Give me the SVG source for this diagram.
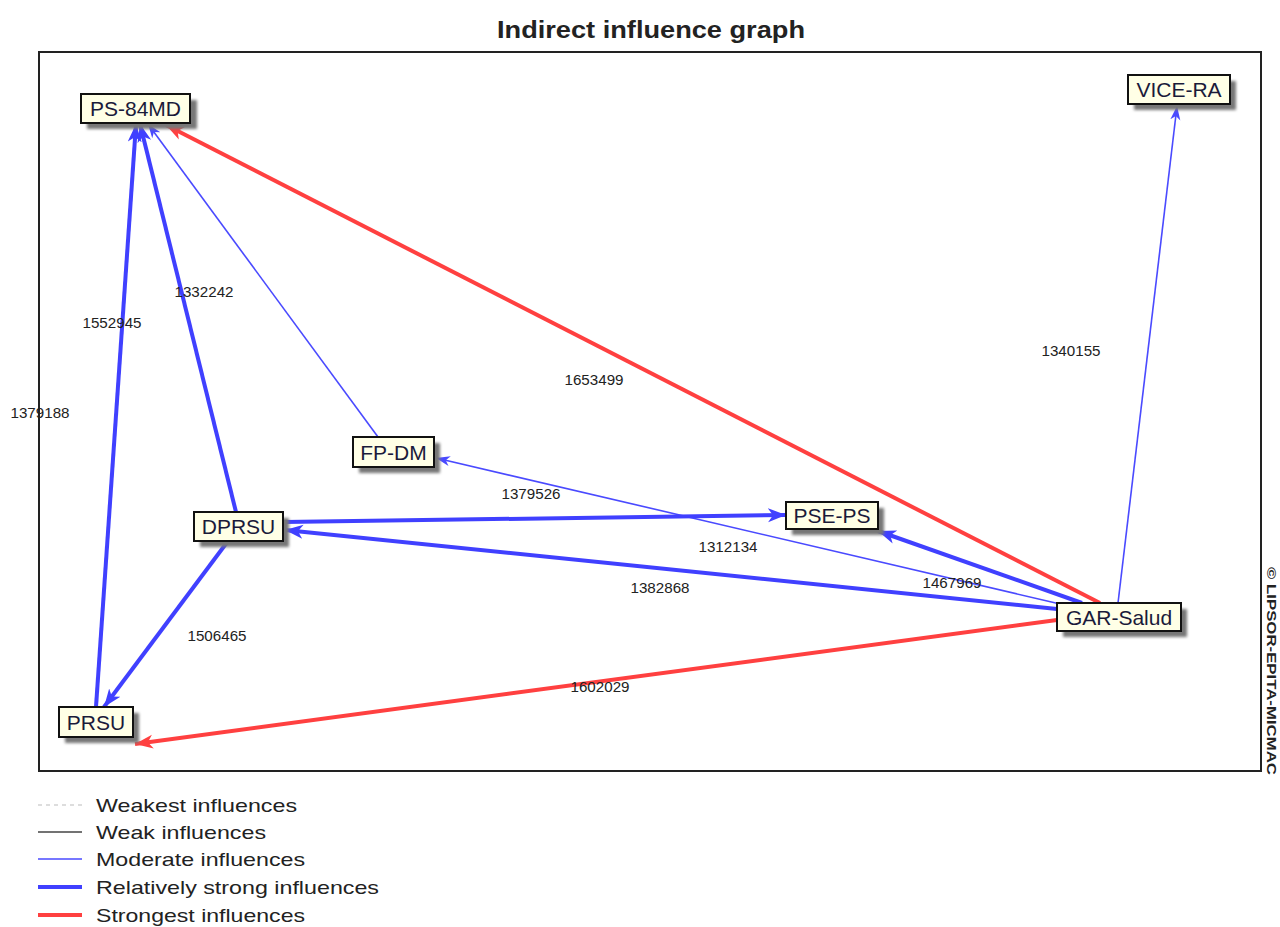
<svg xmlns="http://www.w3.org/2000/svg" width="1280" height="927" viewBox="0 0 1280 927">
  <style>
    .title { font-family: "Liberation Sans", Arial, sans-serif; font-size: 23px; font-weight: bold; fill: #222; }
    .node rect.box { fill: #ffffe6; stroke: #111; stroke-width: 2; }
    .node rect.shadow { fill: #777; filter: url(#soft); }
    .node text { font-family: "Liberation Sans", Arial, sans-serif; font-size: 21px; fill: #1a1a3a; text-anchor: middle; }
    .val { font-family: "Liberation Sans", Arial, sans-serif; font-size: 14px; fill: #222; text-anchor: middle; }
    .mod { stroke: #4a4aff; stroke-width: 1.6; fill: none; }
    .rel { stroke: #4040ff; stroke-width: 4; fill: none; }
    .str { stroke: #ff4040; stroke-width: 4; fill: none; }
    .leg { font-family: "Liberation Sans", Arial, sans-serif; font-size: 19px; fill: #222; }
  </style>
  <defs>
    <filter id="soft" x="-20%" y="-40%" width="140%" height="180%">
      <feGaussianBlur stdDeviation="1.5"/>
    </filter>
    <marker id="aMod" markerUnits="userSpaceOnUse" markerWidth="16" markerHeight="12" refX="14" refY="6" orient="auto">
      <path d="M0,1 L14,6 L0,11 L4,6 Z" fill="#4a4aff"/>
    </marker>
    <marker id="aRel" markerUnits="userSpaceOnUse" markerWidth="20" markerHeight="16" refX="18" refY="8" orient="auto">
      <path d="M0,1 L18,8 L0,15 L5,8 Z" fill="#4040ff"/>
    </marker>
    <marker id="aStr" markerUnits="userSpaceOnUse" markerWidth="20" markerHeight="16" refX="18" refY="8" orient="auto">
      <path d="M0,1 L18,8 L0,15 L5,8 Z" fill="#ff4040"/>
    </marker>
  </defs>

  <rect width="1280" height="927" fill="#fff"/>
  <text class="title" x="651" y="38" text-anchor="middle" textLength="308" lengthAdjust="spacingAndGlyphs">Indirect influence graph</text>
  <rect x="39" y="52" width="1222" height="719" fill="none" stroke="#222" stroke-width="2"/>
  <text x="1267" y="567" transform="rotate(90 1267 567)" font-family="Liberation Sans, Arial, sans-serif" font-size="12" font-weight="bold" fill="#222" textLength="208" lengthAdjust="spacingAndGlyphs">© LIPSOR-EPITA-MICMAC</text>

  <!-- influence arrows -->
  <g id="connectors">
    <line class="str" x1="1100" y1="603" x2="166" y2="125" marker-end="url(#aStr)"/>
    <line class="str" x1="1057" y1="620" x2="135" y2="744" marker-end="url(#aStr)"/>
    <line class="mod" x1="1118" y1="603" x2="1177" y2="106" marker-end="url(#aMod)"/>
    <line class="mod" x1="1060" y1="604" x2="436" y2="458" marker-end="url(#aMod)"/>
    <line class="mod" x1="378" y1="437" x2="148" y2="124" marker-end="url(#aMod)"/>
    <line class="rel" x1="96" y1="707" x2="136" y2="124" marker-end="url(#aRel)"/>
    <line class="rel" x1="236" y1="512" x2="140" y2="124" marker-end="url(#aRel)"/>
    <line class="rel" x1="284" y1="522" x2="786" y2="515" marker-end="url(#aRel)"/>
    <line class="rel" x1="1082" y1="603" x2="878" y2="531" marker-end="url(#aRel)"/>
    <line class="rel" x1="1057" y1="609" x2="285" y2="530" marker-end="url(#aRel)"/>
    <line class="rel" x1="228" y1="541" x2="104" y2="707" marker-end="url(#aRel)"/>

    <text class="val" x="112" y="328" textLength="59" lengthAdjust="spacingAndGlyphs">1552945</text>
    <text class="val" x="204" y="297" textLength="59" lengthAdjust="spacingAndGlyphs">1332242</text>
    <text class="val" x="40" y="418" textLength="59" lengthAdjust="spacingAndGlyphs">1379188</text>
    <text class="val" x="594" y="385" textLength="59" lengthAdjust="spacingAndGlyphs">1653499</text>
    <text class="val" x="1071" y="356" textLength="59" lengthAdjust="spacingAndGlyphs">1340155</text>
    <text class="val" x="531" y="499" textLength="59" lengthAdjust="spacingAndGlyphs">1379526</text>
    <text class="val" x="728" y="552" textLength="59" lengthAdjust="spacingAndGlyphs">1312134</text>
    <text class="val" x="660" y="593" textLength="59" lengthAdjust="spacingAndGlyphs">1382868</text>
    <text class="val" x="952" y="588" textLength="59" lengthAdjust="spacingAndGlyphs">1467969</text>
    <text class="val" x="217" y="641" textLength="59" lengthAdjust="spacingAndGlyphs">1506465</text>
    <text class="val" x="600" y="692" textLength="59" lengthAdjust="spacingAndGlyphs">1602029</text>
  </g>

  <!-- nodes -->
  <g id="node-ps84md" class="node">
    <rect class="shadow" x="87" y="100" width="110" height="29"/>
    <rect class="box" x="81" y="94" width="109" height="29"/>
    <text x="135.5" y="116">PS-84MD</text>
  </g>
  <g id="node-vicera" class="node">
    <rect class="shadow" x="1134" y="81" width="102" height="29"/>
    <rect class="box" x="1128" y="75" width="102" height="29"/>
    <text x="1179" y="97">VICE-RA</text>
  </g>
  <g id="node-fpdm" class="node">
    <rect class="shadow" x="359" y="443" width="81" height="30"/>
    <rect class="box" x="353" y="437" width="81" height="30"/>
    <text x="393.5" y="460">FP-DM</text>
  </g>
  <g id="node-dprsu" class="node">
    <rect class="shadow" x="200" y="518" width="89" height="29"/>
    <rect class="box" x="194" y="512" width="89" height="29"/>
    <text x="238.5" y="534">DPRSU</text>
  </g>
  <g id="node-pseps" class="node">
    <rect class="shadow" x="792" y="508" width="92" height="27"/>
    <rect class="box" x="786" y="502" width="92" height="27"/>
    <text x="832" y="523">PSE-PS</text>
  </g>
  <g id="node-garsalud" class="node">
    <rect class="shadow" x="1063" y="609" width="124" height="28"/>
    <rect class="box" x="1057" y="603" width="124" height="28"/>
    <text x="1119" y="625">GAR-Salud</text>
  </g>
  <g id="node-prsu" class="node">
    <rect class="shadow" x="65" y="713" width="74" height="30"/>
    <rect class="box" x="59" y="707" width="74" height="30"/>
    <text x="96" y="730">PRSU</text>
  </g>

  <!-- legend -->
  <g id="legend">
    <line x1="38" y1="805" x2="82" y2="805" stroke="#bbb" stroke-width="1.2" stroke-dasharray="4,4"/>
    <line x1="38" y1="832" x2="82" y2="832" stroke="#444" stroke-width="1.5"/>
    <line x1="38" y1="859" x2="82" y2="859" stroke="#4a4aff" stroke-width="1.6"/>
    <line x1="38" y1="887" x2="82" y2="887" stroke="#4040ff" stroke-width="4"/>
    <line x1="38" y1="915" x2="82" y2="915" stroke="#ff4040" stroke-width="4"/>
    <text class="leg" x="96" y="812" textLength="201" lengthAdjust="spacingAndGlyphs">Weakest influences</text>
    <text class="leg" x="96" y="839" textLength="170" lengthAdjust="spacingAndGlyphs">Weak influences</text>
    <text class="leg" x="96" y="866" textLength="209" lengthAdjust="spacingAndGlyphs">Moderate influences</text>
    <text class="leg" x="96" y="894" textLength="283" lengthAdjust="spacingAndGlyphs">Relatively strong influences</text>
    <text class="leg" x="96" y="922" textLength="209" lengthAdjust="spacingAndGlyphs">Strongest influences</text>
  </g>
</svg>
